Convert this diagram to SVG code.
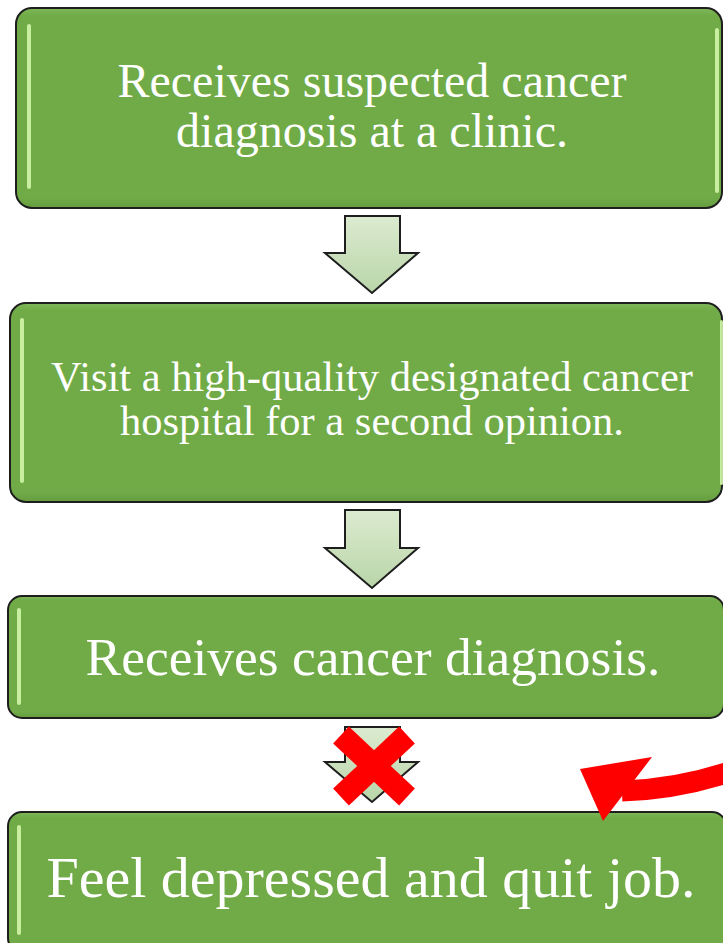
<svg xmlns="http://www.w3.org/2000/svg" width="723" height="943" viewBox="0 0 723 943">
<defs>
<style>
.box{fill:url(#gbox);stroke:#1e1e1e;stroke-width:2}
.hl{fill:#d2f5a8;opacity:0.9}
.txt{font-family:"Liberation Serif","Times New Roman",serif;fill:#ffffff;text-anchor:middle}
.arr{fill:url(#garr);stroke:#1e1e1e;stroke-width:2;stroke-linejoin:miter}
</style>
<linearGradient id="gbox" x1="0" y1="0" x2="0" y2="1">
<stop offset="0" stop-color="#7fb85a"/>
<stop offset="0.04" stop-color="#70ab47"/>
<stop offset="0.95" stop-color="#70ab47"/>
<stop offset="1" stop-color="#669c40"/>
</linearGradient>
<linearGradient id="garr" x1="0" y1="0" x2="0" y2="1">
<stop offset="0" stop-color="#dcebd0"/>
<stop offset="1" stop-color="#b9d5a9"/>
</linearGradient>
</defs>
<rect width="723" height="943" fill="#ffffff"/>

<g id="node1">
<rect class="box" x="16" y="8" width="706" height="200" rx="16"/>
<rect class="hl" x="27" y="24" width="4" height="165" rx="2"/>
<rect class="hl" x="715" y="28" width="4" height="165" rx="2"/>
<text class="txt" font-size="48" x="372" y="97">Receives suspected cancer</text>
<text class="txt" font-size="48" x="372" y="147">diagnosis at a clinic.</text>
</g>

<g id="node2">
<rect class="box" x="10" y="303" width="712" height="199" rx="16"/>
<rect class="hl" x="20" y="318" width="4" height="165" rx="2"/>
<rect class="hl" x="720" y="320" width="3" height="165" rx="1.5"/>
<text class="txt" font-size="42.5" x="372" y="391">Visit a high-quality designated cancer</text>
<text class="txt" font-size="42.5" x="372" y="435">hospital for a second opinion.</text>
</g>

<g id="node3">
<rect class="box" x="8" y="596" width="716" height="122" rx="14"/>
<rect class="hl" x="17" y="608" width="4" height="97" rx="2"/>
<text class="txt" font-size="53.5" x="373" y="675">Receives cancer diagnosis.</text>
</g>

<g id="node4">
<rect class="box" x="8" y="812" width="718" height="140" rx="14"/>
<rect class="hl" x="17" y="825" width="4" height="110" rx="2"/>
<text class="txt" font-size="58" x="371" y="897">Feel depressed and quit job.</text>
</g>

<g id="connectors">
<path class="arr" d="M345 216 H400 V253 H418 L372 293 L325 253 H345 Z"/>
<path class="arr" d="M345 510 H400 V548 H418 L372 588 L325 548 H345 Z"/>
<path class="arr" d="M345 727 H400 V762 H418 L372 802 L325 762 H345 Z"/>
<g id="cross" stroke="#ff0000" stroke-width="23" stroke-linecap="butt">
<line x1="341" y1="735" x2="407" y2="797"/>
<line x1="407" y1="735" x2="341" y2="797"/>
</g>
<g id="red-arrow">
<path d="M622 791 Q680 789 735 770" fill="none" stroke="#ff0000" stroke-width="21"/>
<polygon points="580,769 652,757 603,821" fill="#ff0000"/>
</g>
</g>
</svg>
